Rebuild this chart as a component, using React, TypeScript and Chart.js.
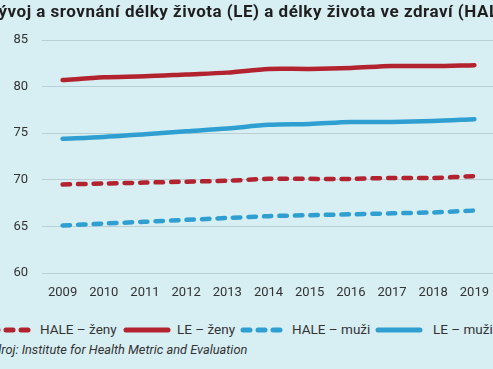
import React, { useEffect, useRef } from "react";
import { Chart, registerables } from "chart.js";

Chart.register(...registerables);

const years = ["2009", "2010", "2011", "2012", "2013", "2014", "2015", "2016", "2017", "2018", "2019"];
const haleZeny = [69.5, 69.6, 69.7, 69.8, 69.9, 70.1, 70.1, 70.1, 70.2, 70.2, 70.4];
const leZeny = [80.7, 81.0, 81.1, 81.3, 81.5, 81.9, 81.9, 82.0, 82.2, 82.2, 82.3];
const haleMuzi = [65.1, 65.3, 65.5, 65.7, 65.9, 66.1, 66.2, 66.3, 66.4, 66.5, 66.7];
const leMuzi = [74.4, 74.6, 74.9, 75.2, 75.5, 75.9, 76.0, 76.2, 76.2, 76.3, 76.5];

const titleText = "Vývoj a srovnání délky života (LE) a délky života ve zdraví (HALE)";
const sourceText = "Zdroj: Institute for Health Metric and Evaluation";
const labelHaleZeny = "HALE – ženy";
const labelLeZeny = "LE – ženy";
const labelHaleMuzi = "HALE – muži";
const labelLeMuzi = "LE – muži";

const RED = "#b3232f";
const BLUE = "#2f9fd2";
const BG = "#d7eef3";
const FONT = "Roboto, 'DejaVu Sans', sans-serif";

function Sample({ color, dashed, left }: { color: string; dashed: boolean; left: number }) {
  return (
    <svg style={{ position: "absolute", left, top: 325 }} width={48} height={10}>
      <line
        x1={3}
        y1={5}
        x2={45}
        y2={5}
        stroke={color}
        strokeWidth={5}
        strokeLinecap="round"
        strokeDasharray={dashed ? "7 8" : undefined}
      />
    </svg>
  );
}

export default function App() {
  const ref = useRef<HTMLCanvasElement | null>(null);
  useEffect(() => {
    if (!ref.current) return;
    const chart = new Chart(ref.current, {
      type: "line",
      data: {
        labels: years,
        datasets: [
          { label: labelHaleZeny, data: haleZeny, borderColor: RED, borderWidth: 4.5, borderDash: [7.5, 8], borderCapStyle: "round", pointRadius: 0, tension: 0.3 },
          { label: labelLeZeny, data: leZeny, borderColor: RED, borderWidth: 4.5, borderCapStyle: "round", pointRadius: 0, tension: 0.3 },
          { label: labelHaleMuzi, data: haleMuzi, borderColor: BLUE, borderWidth: 4.5, borderDash: [7.5, 8], borderCapStyle: "round", pointRadius: 0, tension: 0.3 },
          { label: labelLeMuzi, data: leMuzi, borderColor: BLUE, borderWidth: 4.5, borderCapStyle: "round", pointRadius: 0, tension: 0.3 },
        ],
      },
      options: {
        animation: false,
        responsive: false,
        maintainAspectRatio: false,
        layout: { padding: { top: 40, left: 0, right: 0, bottom: 0 } },
        plugins: { legend: { display: false }, title: { display: false }, tooltip: { enabled: false } },
        scales: {
          x: {
            offset: true,
            grid: { display: false, drawTicks: false },
            border: { display: false },
            ticks: { color: "#333", font: { family: FONT, size: 13 }, padding: 12, maxRotation: 0, autoSkip: false },
            afterFit: (s: any) => { s.height = 37; },
          },
          y: {
            min: 60,
            max: 85,
            ticks: { stepSize: 5, color: "#333", font: { family: FONT, size: 13 }, padding: 14 },
            grid: { color: "#b9cfd5", lineWidth: 1, drawTicks: false },
            border: { display: false },
            afterFit: (s: any) => { s.width = 42; },
          },
        },
      },
    });
    return () => chart.destroy();
  }, []);

  const legendText: React.CSSProperties = { position: "absolute", top: 321, fontSize: 13.5, color: "#333", whiteSpace: "nowrap" };

  return (
    <div style={{ position: "fixed", left: 0, top: 0, width: 493, height: 369, overflow: "hidden", background: BG, fontFamily: FONT }}>
      <canvas ref={ref} width={501} height={310} style={{ position: "absolute", left: 0, top: 0, width: 501, height: 310 }} />
      <div style={{ position: "absolute", left: -13, top: 1, whiteSpace: "nowrap", fontWeight: 700, fontSize: 17, letterSpacing: 0.5, color: "#1f1f1f" }}>
        {titleText}
      </div>
      <Sample color={RED} dashed left={-12} />
      <div style={{ ...legendText, left: 40 }}>{labelHaleZeny}</div>
      <Sample color={RED} dashed={false} left={123} />
      <div style={{ ...legendText, left: 177 }}>{labelLeZeny}</div>
      <Sample color={BLUE} dashed left={240} />
      <div style={{ ...legendText, left: 292 }}>{labelHaleMuzi}</div>
      <Sample color={BLUE} dashed={false} left={375} />
      <div style={{ ...legendText, left: 433 }}>{labelLeMuzi}</div>
      <div style={{ position: "absolute", left: -13, top: 342, fontSize: 12.8, fontStyle: "italic", color: "#333", whiteSpace: "nowrap" }}>{sourceText}</div>
    </div>
  );
}
